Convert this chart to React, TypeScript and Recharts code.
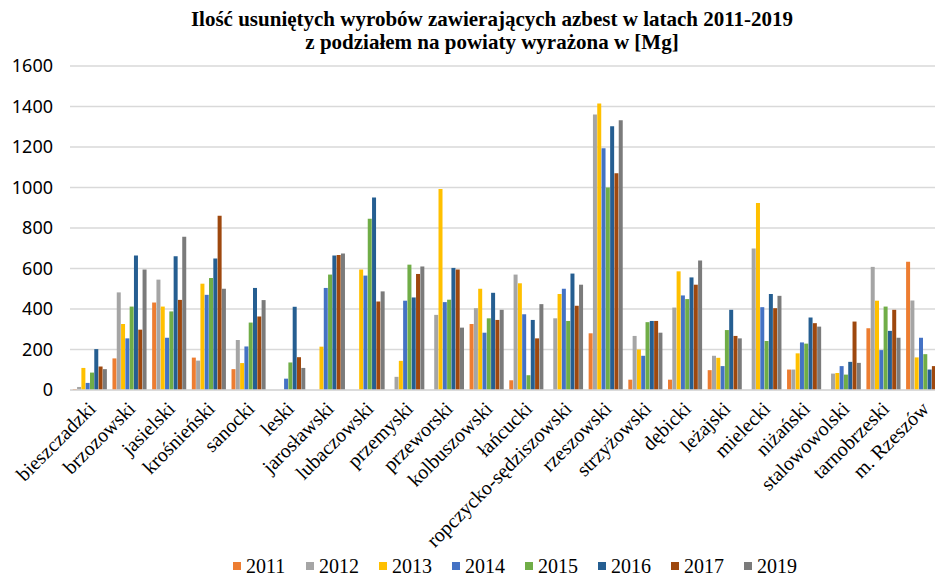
import { Bar, BarChart, CartesianGrid, Legend, XAxis, YAxis } from 'recharts'

const categories = [
  'bieszczadzki', 'brzozowski', 'jasielski', 'krośnieński', 'sanocki', 'leski',
  'jarosławski', 'lubaczowski', 'przemyski', 'przeworski', 'kolbuszowski',
  'łańcucki', 'ropczycko-sędziszowski', 'rzeszowski', 'strzyżowski', 'dębicki',
  'leżajski', 'mielecki', 'niżański', 'stalowowolski', 'tarnobrzeski', 'm. Rzeszów',
]

const y2011 = [5, 156, 432, 160, 103, 0, 0, 0, 0, 0, 326, 48, 0, 280, 51, 51, 98, 0, 101, 0, 305, 633]
const y2012 = [15, 482, 545, 145, 247, 0, 0, 0, 65, 371, 404, 570, 354, 1360, 267, 407, 169, 699, 101, 81, 608, 442]
const y2013 = [109, 326, 412, 525, 133, 0, 214, 595, 144, 992, 500, 527, 474, 1415, 200, 586, 159, 923, 181, 84, 441, 161]
const y2014 = [35, 255, 258, 470, 215, 56, 504, 565, 441, 434, 283, 374, 500, 1194, 169, 467, 118, 409, 235, 118, 197, 258]
const y2015 = [86, 412, 388, 553, 333, 136, 570, 846, 619, 446, 354, 73, 341, 1000, 335, 449, 296, 242, 229, 76, 412, 177]
const y2016 = [202, 664, 661, 649, 504, 411, 664, 951, 457, 603, 480, 346, 575, 1302, 341, 556, 396, 474, 358, 139, 292, 101]
const y2017 = [116, 298, 445, 860, 363, 162, 667, 437, 573, 595, 346, 255, 416, 1070, 341, 520, 267, 404, 330, 338, 396, 118]
const y2019 = [103, 595, 757, 500, 444, 109, 674, 487, 610, 308, 396, 424, 520, 1332, 283, 639, 255, 465, 313, 134, 258, 120]

const years = ['2011', '2012', '2013', '2014', '2015', '2016', '2017', '2019']
const colors = ['#ED7D31', '#A5A5A5', '#FFC000', '#4472C4', '#70AD47', '#255E91', '#9E480E', '#7B7B7B']
const seriesValues = [y2011, y2012, y2013, y2014, y2015, y2016, y2017, y2019]
const yTicks = [0, 200, 400, 600, 800, 1000, 1200, 1400, 1600]

const data = categories.map((name, i) => {
  const row: Record<string, string | number> = { name }
  years.forEach((year, s) => {
    row[year] = seriesValues[s][i]
  })
  return row
})

const serif = '"Liberation Serif", "Times New Roman", serif'

function XTick({ x, y, payload }: any) {
  return (
    <g transform={`translate(${x + 7},${y + 20})`}>
      <text
        x={0}
        y={0}
        textAnchor='end'
        transform='rotate(-45)'
        fontFamily={serif}
        fontSize={20}
        fill='#000'
      >
        {payload.value}
      </text>
    </g>
  )
}

function LegendContent() {
  return (
    <div style={{ display: 'flex', marginLeft: 233 }}>
      {years.map((year, i) => (
        <div key={year} style={{ width: 73, display: 'flex', alignItems: 'center' }}>
          <span
            style={{ width: 8, height: 8, background: colors[i], marginRight: 5, display: 'inline-block' }}
          />
          <span style={{ fontFamily: serif, fontSize: 20, color: '#000', lineHeight: '22px' }}>{year}</span>
        </div>
      ))}
    </div>
  )
}

export default function App() {
  return (
    <div
      style={{
        position: 'absolute',
        left: 0,
        top: 0,
        width: 935,
        height: 579,
        overflow: 'hidden',
        background: '#fff',
      }}
    >
      <div
        style={{
          position: 'absolute',
          left: 92,
          top: 8,
          width: 800,
          textAlign: 'center',
          fontFamily: serif,
          fontWeight: 'bold',
          fontSize: 21,
          lineHeight: '23px',
          color: '#000',
        }}
      >
        Ilość usuniętych wyrobów zawierających azbest w latach 2011-2019
        <br />
        z podziałem na powiaty wyrażona w [Mg]
      </div>
      <BarChart
        width={943}
        height={579}
        data={data}
        margin={{ top: 66, right: 0, left: 0, bottom: 0 }}
        barCategoryGap='7%'
        barGap={0.3}
      >
        <CartesianGrid vertical={false} stroke='#D9D9D9' strokeWidth={1.5} />
        <XAxis
          dataKey='name'
          interval={0}
          tick={<XTick />}
          tickLine={false}
          tickSize={0}
          tickMargin={0}
          height={167}
          axisLine={{ stroke: '#D9D9D9', strokeWidth: 1.5 }}
        />
        <YAxis
          domain={[0, 1600]}
          ticks={yTicks}
          width={70}
          axisLine={false}
          tickLine={false}
          tickMargin={11}
          tick={{ fontFamily: '"Noto Sans", sans-serif', fontSize: 18, fill: '#000' }}
        />
        <Legend verticalAlign='bottom' content={<LegendContent />} wrapperStyle={{ bottom: 2 }} />
        {years.map((year, i) => (
          <Bar key={year} dataKey={year} fill={colors[i]} isAnimationActive={false} />
        ))}
      </BarChart>
    </div>
  )
}
